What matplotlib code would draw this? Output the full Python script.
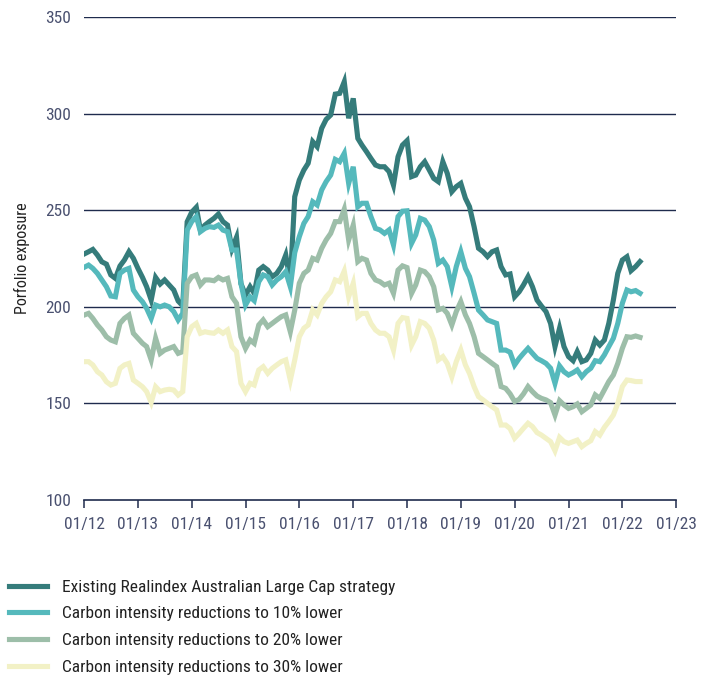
import matplotlib
matplotlib.use('Agg')
import matplotlib.pyplot as plt
import matplotlib.dates as mdates
import pandas as pd

plt.rcParams['font.family'] = ['Roboto Condensed', 'Liberation Sans Narrow', 'Roboto', 'DejaVu Sans']

# monthly data, Jan 2012 .. May 2022
dates = pd.date_range('2012-01-01', periods=125, freq='MS')

existing = [
    227.3, 228.5, 229.7, 226.8, 223.3, 222.1, 216.5, 214.7, 221.1, 224.2, 228.5, 225.1,
    219.9, 215.2, 210.4, 203.5, 215.2, 211.8, 213.9, 211.3, 208.7, 203.0, 200.5, 244.0,
    249.0, 251.5, 239.7, 242.3, 244.1, 245.8, 248.0, 244.1, 242.3, 230.0, 236.0, 212.0,
    206.1, 210.4, 207.0, 219.0, 220.8, 219.0, 215.6, 217.3, 220.8, 226.8, 213.0, 257.0,
    265.6, 270.8, 274.3, 285.5, 282.9, 292.4, 297.0, 299.3, 310.1, 310.5, 316.5, 297.6,
    307.9, 287.2, 283.7, 280.3, 276.8, 273.4, 272.5, 272.5, 270.0, 263.0, 277.7, 283.7,
    286.0, 267.4, 268.2, 272.5, 275.1, 270.8, 266.5, 264.8, 275.1, 269.1, 259.6, 262.2,
    263.9, 256.2, 251.8, 241.5, 230.3, 228.5, 226.0, 228.5, 229.4, 220.8, 216.5, 217.0,
    205.2, 207.8, 211.3, 215.6, 210.4, 203.5, 200.4, 197.5, 191.4, 179.4, 188.9, 179.4,
    174.2, 172.1, 176.8, 171.6, 172.5, 175.9, 182.8, 180.2, 182.8, 191.4, 203.5, 217.3,
    224.2, 225.9, 218.7, 220.8, 223.4,
]
lower_10 = [
    220.4, 221.6, 219.9, 217.3, 213.9, 210.4, 205.6, 205.2, 217.3, 219.0, 219.9, 208.7,
    205.2, 202.6, 199.2, 194.0, 200.9, 200.0, 200.9, 200.0, 197.5, 193.2, 196.6, 239.7,
    244.1, 246.7, 238.9, 240.6, 241.5, 241.1, 242.3, 239.7, 238.9, 229.4, 229.4, 212.1,
    200.9, 205.2, 203.2, 213.0, 216.5, 215.6, 211.3, 213.9, 215.6, 218.2, 210.4, 228.0,
    236.3, 243.2, 246.7, 254.4, 252.7, 260.5, 264.8, 268.2, 276.3, 275.1, 279.4, 263.9,
    272.5, 251.8, 253.6, 253.6, 246.7, 240.6, 239.8, 238.0, 239.8, 232.0, 246.7, 249.5,
    249.7, 232.9, 237.2, 245.8, 244.9, 241.5, 234.6, 222.5, 224.2, 220.8, 210.4, 220.8,
    228.5, 219.9, 215.6, 207.0, 198.3, 195.8, 193.2, 192.3, 191.4, 177.6, 177.6, 176.5,
    169.9, 173.3, 175.9, 178.5, 175.9, 173.3, 172.1, 170.7, 168.2, 160.4, 169.4, 166.4,
    164.7, 165.9, 167.3, 163.8, 166.4, 168.2, 172.1, 171.6, 175.1, 179.4, 183.7, 191.4,
    201.8, 208.7, 207.8, 208.4, 207.0,
]
lower_20 = [
    195.7, 196.6, 194.0, 190.6, 188.0, 184.5, 182.8, 181.9, 191.4, 194.0, 195.7, 186.3,
    183.7, 181.1, 179.4, 172.5, 183.7, 175.9, 177.6, 178.5, 179.4, 175.9, 176.8, 212.1,
    215.6, 216.5, 211.3, 213.9, 213.9, 213.5, 215.2, 213.9, 214.7, 205.2, 201.8, 184.5,
    178.5, 182.8, 181.1, 190.6, 193.2, 189.7, 191.4, 193.2, 194.9, 195.8, 187.1, 198.3,
    212.2, 217.3, 219.0, 225.1, 224.2, 230.3, 234.6, 238.0, 244.1, 244.1, 250.5, 234.6,
    242.3, 223.4, 225.1, 224.2, 217.3, 213.9, 213.0, 211.3, 212.2, 207.0, 219.0, 221.2,
    220.3, 207.0, 211.3, 219.0, 218.2, 215.6, 210.4, 198.4, 199.2, 196.6, 190.6, 197.5,
    202.7, 195.8, 191.4, 184.5, 175.9, 174.2, 172.5, 170.7, 169.0, 158.7, 157.8, 155.0,
    151.0, 152.1, 154.9, 158.7, 156.1, 153.8, 152.6, 151.8, 150.4, 144.0, 151.4, 149.2,
    147.4, 148.3, 149.7, 145.7, 147.4, 149.2, 154.4, 152.6, 157.0, 161.3, 164.7, 170.7,
    178.5, 184.5, 184.2, 184.9, 184.2,
]
lower_30 = [
    171.6, 171.6, 169.9, 166.4, 164.7, 161.2, 159.5, 160.4, 168.1, 169.9, 170.7, 162.1,
    160.4, 158.6, 156.1, 150.5, 158.6, 156.1, 156.9, 157.3, 156.9, 154.3, 156.1, 184.5,
    189.7, 191.4, 186.3, 187.1, 186.6, 186.3, 188.0, 186.3, 188.0, 179.4, 176.8, 160.4,
    156.1, 160.4, 159.5, 167.3, 169.0, 165.6, 168.1, 169.9, 171.6, 172.5, 162.0, 172.5,
    184.5, 188.9, 190.6, 198.4, 195.8, 201.8, 205.2, 207.8, 213.9, 213.0, 218.5, 205.2,
    212.2, 194.9, 196.6, 196.6, 191.4, 188.0, 186.3, 186.3, 184.5, 177.6, 191.4, 194.4,
    194.0, 180.2, 184.5, 192.3, 191.4, 188.9, 182.8, 172.5, 174.2, 170.7, 163.8, 171.6,
    177.6, 169.9, 165.5, 158.7, 153.5, 151.8, 150.0, 148.3, 146.6, 138.8, 138.8, 137.0,
    132.0, 134.5, 137.1, 139.7, 138.0, 134.9, 133.6, 131.9, 130.2, 125.5, 132.4, 130.2,
    129.3, 130.2, 131.0, 127.6, 129.3, 130.7, 135.4, 133.6, 137.6, 140.6, 144.0, 150.0,
    158.7, 162.1, 161.8, 161.3, 161.3,
]

labels = [
    'Existing Realindex Australian Large Cap strategy',
    'Carbon intensity reductions to 10% lower',
    'Carbon intensity reductions to 20% lower',
    'Carbon intensity reductions to 30% lower',
]
colors = ['#357c7b', '#55b9bc', '#9dbea9', '#f2f1c6']
y_ticks = [100, 150, 200, 250, 300, 350]

navy = '#1f2b4d'
text_col = '#4a5170'

fig = plt.figure(figsize=(7.13, 6.82), dpi=100)
ax = fig.add_axes([0.1178, 0.2669, 0.8305, 0.7081])

for series, col, lab in zip([existing, lower_10, lower_20, lower_30], colors, labels):
    ax.plot(dates, series, color=col, lw=3.7, label=lab, solid_joinstyle='miter', zorder=3)

# horizontal grid
for yv in y_ticks[1:]:
    ax.axhline(yv, color=navy, lw=1.0, zorder=1)

ax.set_ylim(100, 350)
ax.set_xlim(pd.Timestamp('2012-01-01'), pd.Timestamp('2023-01-01'))
ax.set_yticks(y_ticks)
ax.xaxis.set_major_locator(mdates.YearLocator())
ax.xaxis.set_major_formatter(mdates.DateFormatter('%m/%y'))

for s in ['top', 'right', 'left']:
    ax.spines[s].set_visible(False)
ax.spines['bottom'].set_color(navy)
ax.spines['bottom'].set_linewidth(1.2)
ax.tick_params(axis='y', length=0, pad=9, labelsize=12.5, labelcolor=text_col)
ax.tick_params(axis='x', length=6, width=1.1, color=navy, pad=6, labelsize=12.5, labelcolor=text_col)

ax.set_ylabel('Porfolio exposure', fontsize=11.5, color='#222222', labelpad=11)

fig.legend(loc='upper left', bbox_to_anchor=(0.012, 0.15), frameon=False,
           fontsize=12.5, handlelength=2.2, handletextpad=0.9, labelspacing=0.66,
           borderpad=0, borderaxespad=0, labelcolor='#222222')

fig.savefig('out.png', dpi=100)
